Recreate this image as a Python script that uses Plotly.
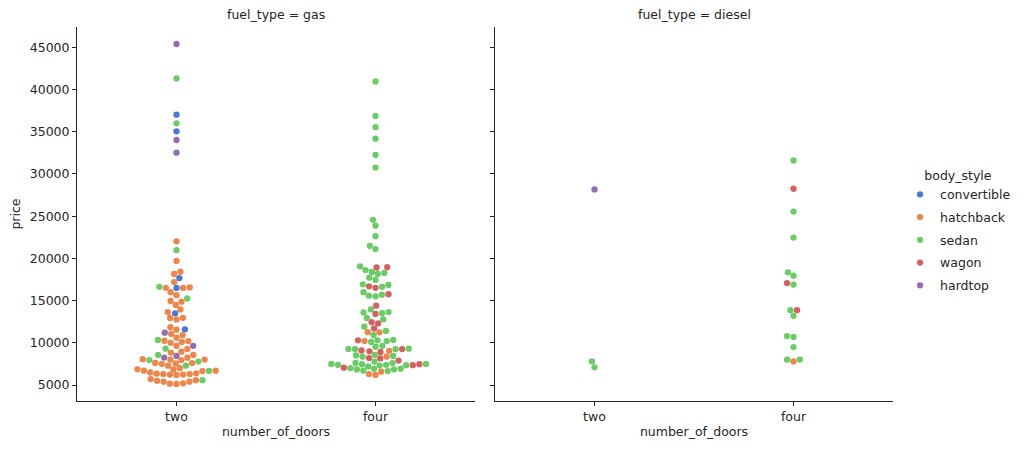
"""
Swarm plot of car prices by number of doors, one panel per fuel type.
"""

import numpy as np
import pandas as pd
import plotly.graph_objects as go
from plotly.subplots import make_subplots

fuel_types = ["gas", "diesel"]
door_labels = ["two", "four"]
body_styles = ["convertible", "hatchback", "sedan", "wagon", "hardtop"]
style_colors = ["#4878d0", "#ee854a", "#6acc64", "#d65f5f", "#956cb4"]

# Prices, one list per fuel type / doors / body style.
gas_two_convertible = [37028, 35056, 17669, 16500, 13495, 11595]
gas_two_hatchback = [
    22018, 19699, 18420, 18150, 17199, 16503, 16558, 16515, 15998, 15645,
    14869, 14950, 14489, 13950, 13645, 12945, 12764, 12964, 11850, 11549,
    11048, 10898, 10595, 10198, 10245, 9995, 10095, 9639, 9279, 8948,
    8558, 8845, 8238, 7957, 7999, 8058, 8013, 7603, 7295, 7499,
    7549, 7609, 6849, 6649, 6989, 6855, 6692, 6695,
    6338, 6229, 6295, 6189, 6377, 6229, 6295, 6479,
    5699, 5399, 5195, 5151, 5118, 5389, 5499, 5572,
]
gas_two_sedan = [41315, 36000, 20970, 16630, 15250, 10345, 9298, 8558, 7957, 7775, 7295, 6669, 5572]
gas_two_wagon = []
gas_two_hardtop = [45400, 34028, 32528, 11199, 9639, 8449, 8249]

gas_four_convertible = []
gas_four_hatchback = [11245, 11259, 10198, 9045, 8358, 6189, 6295, 6575]
gas_four_sedan = [
    40960, 36880, 35550, 34184, 32250, 30760,
    24565, 23875, 22625, 21485, 21105, 19045,
    18620, 18399, 18150, 18280, 17710, 17450, 16925, 16630, 16845,
    15998, 15580, 15510, 15690, 13950, 13645, 13499, 13595,
    12945, 12764, 11900, 11395, 10898, 10345, 10198, 10095, 10295,
    9298, 9538, 9639, 9279, 9233, 9258, 8558, 8358, 8449, 8499,
    7349, 7499, 7395, 7299, 7463, 7609, 7395, 7775, 7603, 7198, 7499,
    6989, 6849, 6692, 6649, 6855, 6918, 6938,
]
gas_four_wagon = [
    18950, 18920, 16695, 16515, 15750, 14399, 13415, 12440, 12290, 11694,
    10295, 9095, 8995, 8921, 9258, 7898, 8195, 8145, 7349, 7053, 7463,
]
gas_four_hardtop = []

diesel_two_convertible = []
diesel_two_hatchback = []
diesel_two_sedan = [7788, 7099]
diesel_two_wagon = []
diesel_two_hardtop = [28176]

diesel_four_convertible = []
diesel_four_hatchback = [7788]
diesel_four_sedan = [31600, 25552, 22470, 18344, 17950, 16900, 13860, 13200, 10795, 10698, 9495, 7995, 8013]
diesel_four_wagon = [28248, 17075, 13860]
diesel_four_hardtop = []

groups = {
    ("gas", "two"): [gas_two_convertible, gas_two_hatchback, gas_two_sedan, gas_two_wagon, gas_two_hardtop],
    ("gas", "four"): [gas_four_convertible, gas_four_hatchback, gas_four_sedan, gas_four_wagon, gas_four_hardtop],
    ("diesel", "two"): [diesel_two_convertible, diesel_two_hatchback, diesel_two_sedan, diesel_two_wagon, diesel_two_hardtop],
    ("diesel", "four"): [diesel_four_convertible, diesel_four_hatchback, diesel_four_sedan, diesel_four_wagon, diesel_four_hardtop],
}

rows = []
for (fuel, doors), lists in groups.items():
    for style, vals in zip(body_styles, lists):
        for p in vals:
            rows.append(dict(fuel_type=fuel, number_of_doors=doors, body_style=style, price=p))
df = pd.DataFrame(rows)

# figure geometry (px); the page body adds 8px on each side, so the figure is shrunk to fit
W, H = 1008, 434
ML, MR, MT, MB = 69, 123, 19, 41
GAP = 20
panel_w = (W - ML - MR - GAP) / 2
plot_h = H - MT - MB
MARKER = 6.3
FONT = 12.5

# matplotlib style 5% margins on y
lo, hi = df["price"].min(), df["price"].max()
pad = 0.05 * (hi - lo)
y_range = [lo - pad, hi + pad]
px_per_x = panel_w / 2.0
px_per_y = plot_h / (y_range[1] - y_range[0])


def beeswarm(ypix, d):
    """Seaborn-like swarm: place points bottom-up, closest free spot to the centre."""
    order = np.argsort(ypix, kind="stable")
    placed = []
    out = np.zeros(len(ypix))
    for i in order:
        y = ypix[i]
        near = [(px, py) for px, py in placed if abs(py - y) < d]
        cands = [0.0]
        left_first = True
        for px, py in near:
            dx = np.sqrt(max(d * d - (py - y) ** 2, 0)) * 1.05
            pair = [px - dx, px + dx] if left_first else [px + dx, px - dx]
            cands.extend(pair)
            left_first = not left_first
        cands = sorted(cands, key=abs)
        for c in cands:
            if all((c - px) ** 2 + (y - py) ** 2 >= d * d - 1e-6 for px, py in near):
                out[i] = c
                break
        placed.append((out[i], y))
    return out


df["x"] = 0.0
for (fuel, doors), sub in df.groupby(["fuel_type", "number_of_doors"]):
    offs = beeswarm(sub["price"].to_numpy() * px_per_y, MARKER)
    df.loc[sub.index, "x"] = door_labels.index(doors) + offs / px_per_x

fig = make_subplots(
    rows=1, cols=2, shared_yaxes=True,
    horizontal_spacing=GAP / (W - ML - MR),
    subplot_titles=[f"fuel_type = {f}" for f in fuel_types],
)

for col, fuel in enumerate(fuel_types, start=1):
    for style, color in zip(body_styles, style_colors):
        sub = df[(df["fuel_type"] == fuel) & (df["body_style"] == style)]
        fig.add_trace(
            go.Scatter(
                x=sub["x"], y=sub["price"], mode="markers", name=style,
                legendgroup=style, showlegend=(col == 1),
                marker=dict(color=color, size=MARKER, line=dict(width=0)),
            ),
            row=1, col=col,
        )

ink = "#262626"
axis_style = dict(
    showline=True, linecolor=ink, linewidth=1, ticks="outside", ticklen=4,
    tickcolor=ink, showgrid=False, zeroline=False, automargin=False,
    tickfont=dict(size=FONT, color=ink),
)
fig.update_xaxes(
    axis_style, range=[-0.5, 1.5], tickvals=[0, 1], ticktext=door_labels,
    title=dict(text="number_of_doors", standoff=4, font=dict(size=FONT, color=ink)),
)
fig.update_yaxes(axis_style, range=y_range, dtick=5000, tick0=0, tickformat="d")
fig.update_yaxes(title=dict(text="price", standoff=6, font=dict(size=FONT, color=ink)), row=1, col=1)
fig.update_yaxes(showticklabels=False, row=1, col=2)

for ann in fig.layout.annotations:
    ann.font = dict(size=FONT, color=ink)
    ann.yshift = 3

fig.update_layout(
    width=W, height=H,
    margin=dict(l=ML, r=MR, t=MT, b=MB),
    plot_bgcolor="white", paper_bgcolor="white",
    font=dict(family="DejaVu Sans", size=FONT, color=ink),
    legend=dict(
        title=dict(text="body_style", side="top center", font=dict(size=FONT, color=ink)),
        font=dict(size=FONT, color=ink),
        xref="container", yref="container",
        x=0.885, xanchor="left", y=0.484, yanchor="middle",
        bgcolor="rgba(0,0,0,0)", itemsizing="trace", tracegroupgap=3.5,
    ),
)

fig.write_html("out.html")
